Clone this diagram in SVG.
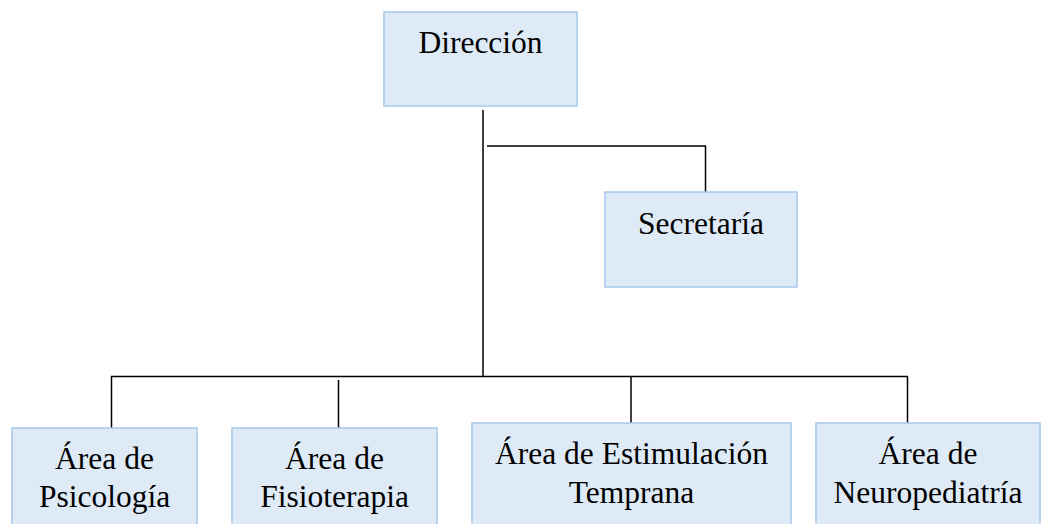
<svg xmlns="http://www.w3.org/2000/svg" width="1050" height="524" viewBox="0 0 1050 524">
<style>
.box{fill:#deeaf6;stroke:#a6c8ea;stroke-width:1.5}
.t{font-family:"Liberation Serif","Times New Roman",serif;font-size:31.5px;fill:#000;text-anchor:middle}
.c line{stroke:#000;stroke-width:1.5}
</style>
<rect width="1050" height="524" fill="#fff"/>
<g id="connectors" class="c">
<line x1="483" y1="110" x2="483" y2="377"/>
<line x1="487" y1="146" x2="706" y2="146"/>
<line x1="705.5" y1="146" x2="705.5" y2="192"/>
<line x1="111" y1="376.5" x2="908" y2="376.5"/>
<line x1="111.5" y1="376.5" x2="111.5" y2="428"/>
<line x1="338.5" y1="380" x2="338.5" y2="428"/>
<line x1="631" y1="376.5" x2="631" y2="423"/>
<line x1="907.5" y1="376.5" x2="907.5" y2="423"/>
</g>
<g id="direccion">
<rect class="box" x="384" y="12" width="193" height="94"/>
<text class="t" x="480.5" y="53">Dirección</text>
</g>
<g id="secretaria">
<rect class="box" x="605" y="192" width="192" height="95"/>
<text class="t" x="701" y="234">Secretaría</text>
</g>
<g id="psicologia">
<rect class="box" x="12" y="428" width="185" height="110"/>
<text class="t" x="104.5" y="469">Área de</text>
<text class="t" x="104.5" y="507">Psicología</text>
</g>
<g id="fisioterapia">
<rect class="box" x="232" y="428" width="205" height="110"/>
<text class="t" x="334.5" y="469">Área de</text>
<text class="t" x="334.5" y="507">Fisioterapia</text>
</g>
<g id="estimulacion">
<rect class="box" x="472" y="423" width="319" height="115"/>
<text class="t" x="631.5" y="464">Área de Estimulación</text>
<text class="t" x="631.5" y="503">Temprana</text>
</g>
<g id="neuropediatria">
<rect class="box" x="816" y="423" width="224" height="115"/>
<text class="t" x="928" y="464">Área de</text>
<text class="t" x="928" y="503">Neuropediatría</text>
</g>
</svg>
